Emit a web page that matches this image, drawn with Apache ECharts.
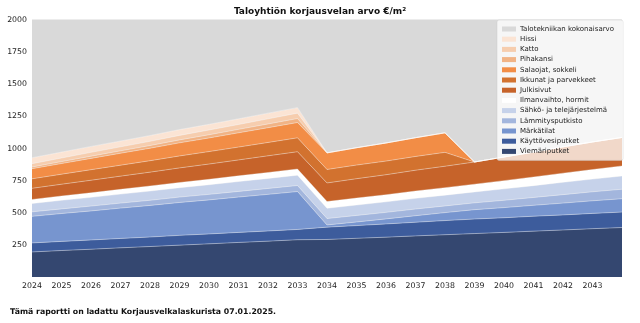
<!DOCTYPE html>
<html>
<head>
<meta charset="utf-8">
<script src="https://cdn.jsdelivr.net/npm/echarts@6/dist/echarts.min.js"></script>
<style>
html,body{margin:0;padding:0;background:#fff;}
#chart{width:640px;height:323px;}
</style>
</head>
<body>
<div id="chart"></div>
<script>
const years = ['2024','2025','2026','2027','2028','2029','2030','2031','2032','2033','2034','2035','2036','2037','2038','2039','2040','2041','2042','2043','2044'];
const yTicks = [250,500,750,1000,1250,1500,1750,2000];

const viemariputket   = [195,206,216,227,237,248,258,269,279,290,292,301,310,320,329,338,347,357,366,376,385];
const kayttovesiputket= [70,71,72,73,74,76,77,78,79,80,96,99,103,106,110,113,114,116,117,119,120];
const markatilat      = [207,217,226,236,246,256,265,275,285,295,17,28,39,51,62,73,79,85,92,98,104];
const lammitysputkisto= [35,36,38,39,40,42,43,44,46,47,50,51,51,52,52,53,57,61,66,70,74];
const sahko           = [65,67,68,70,72,73,75,77,78,80,80,81,82,83,84,85,89,92,96,99,103];
const ilmanvaihto     = [31,33,35,37,39,40,42,44,46,48,52,54,55,57,58,60,64,67,71,74,78];
const julkisivut      = [87,92,98,103,108,114,119,124,130,135,145,151,156,162,167,173,184,194,205,215,222];
const ikkunat         = [74,78,82,85,89,93,97,100,104,108,105,106,106,107,108,0,0,0,0,0,0];
const salaojat        = [79,83,88,93,97,102,106,111,115,119,129,135,141,146,152,0,0,0,0,0,0];
const pihakansi       = [13,15,17,19,21,23,25,27,29,31,0,0,0,0,0,0,0,0,0,0,0];
const katto           = [26,28,30,31,33,35,37,38,40,42,0,0,0,0,0,0,0,0,0,0,0];
const hissi           = [46,46,46,45,45,45,44,44,44,43,0,0,0,0,0,0,0,0,0,0,0];
const talotekniikka   = [1200,1200,1200,1200,1200,1200,1200,1200,1200,1200,1200,1200,1200,1200,1200,1200,1200,1200,1200,1200,1200];

const layers = [
  ['Viemäriputket', viemariputket, '#344770'],
  ['Käyttövesiputket', kayttovesiputket, '#3d5c9c'],
  ['Märkätilat', markatilat, '#7795cf'],
  ['Lämmitysputkisto', lammitysputkisto, '#a3b6dd'],
  ['Sähkö- ja telejärjestelmä', sahko, '#c6d2ea'],
  ['Ilmanvaihto, hormit', ilmanvaihto, '#ffffff'],
  ['Julkisivut', julkisivut, '#c6632a'],
  ['Ikkunat ja parvekkeet', ikkunat, '#d2722f'],
  ['Salaojat, sokkeli', salaojat, '#f28d46'],
  ['Pihakansi', pihakansi, '#f1b385'],
  ['Katto', katto, '#f6cdae'],
  ['Hissi', hissi, '#fbe4d4'],
  ['Talotekniikan kokonaisarvo', talotekniikka, '#d9d9d9']
];

const series = layers.map(([name, vals, color]) => ({
  name: name,
  type: 'line',
  stack: 'total',
  stackStrategy: 'all',
  data: vals,
  showSymbol: false,
  symbol: 'none',
  color: color,
  lineStyle: { width: 0.8, color: 'rgba(255,255,255,0.45)' },
  areaStyle: { color: color, opacity: 1 },
  itemStyle: { color: color },
  emphasis: { disabled: true },
  animation: false
}));

const chart = echarts.init(document.getElementById('chart'), null, { renderer: 'canvas' });
chart.setOption({
  animation: false,
  textStyle: { fontFamily: 'DejaVu Sans' },
  title: {
    text: 'Taloyhtiön korjausvelan arvo €/m²',
    left: 'center',
    top: 7,
    padding: 0,
    textStyle: { fontSize: 9, fontWeight: 'bold', color: '#111', fontFamily: 'DejaVu Sans' }
  },
  grid: { left: 32, right: 18, top: 20, bottom: 46, show: true, backgroundColor: '#d9d9d9', borderWidth: 0 },
  legend: {
    orient: 'vertical',
    left: 497,
    top: 20,
    padding: [4, 9, 4, 5],
    itemWidth: 14,
    itemHeight: 5,
    itemGap: 0.2,
    icon: 'rect',
    backgroundColor: 'rgba(255,255,255,0.75)',
    borderColor: 'rgba(200,200,200,0.8)',
    borderWidth: 0.5,
    borderRadius: 2,
    data: layers.map(l => l[0]).reverse(),
    textStyle: { fontSize: 7, lineHeight: 10, color: '#222', fontFamily: 'DejaVu Sans', padding: [0,0,0,-1] },
    selectedMode: false
  },
  xAxis: {
    type: 'category',
    data: years,
    boundaryGap: false,
    axisLine: { show: false },
    axisTick: { show: false },
    splitLine: { show: false },
    axisLabel: {
      interval: 0,
      fontSize: 7.8, color: '#222', margin: 5,
      formatter: v => (v === years[years.length - 1] ? '' : v)
    }
  },
  yAxis: {
    type: 'value',
    min: 0,
    max: yTicks[yTicks.length - 1],
    interval: yTicks[0],
    axisLine: { show: false },
    axisTick: { show: false },
    splitLine: { show: false },
    axisLabel: {
      fontSize: 7.8, color: '#222', margin: 5,
      formatter: v => (yTicks.includes(v) ? String(v) : '')
    }
  },
  graphic: [{
    type: 'text',
    left: 10,
    top: 308,
    style: {
      text: 'Tämä raportti on ladattu Korjausvelkalaskurista 07.01.2025.',
      fontSize: 7.8,
      fontWeight: 'bold',
      fontFamily: 'DejaVu Sans',
      fill: '#111'
    }
  }],
  series: series
});
</script>
</body>
</html>
